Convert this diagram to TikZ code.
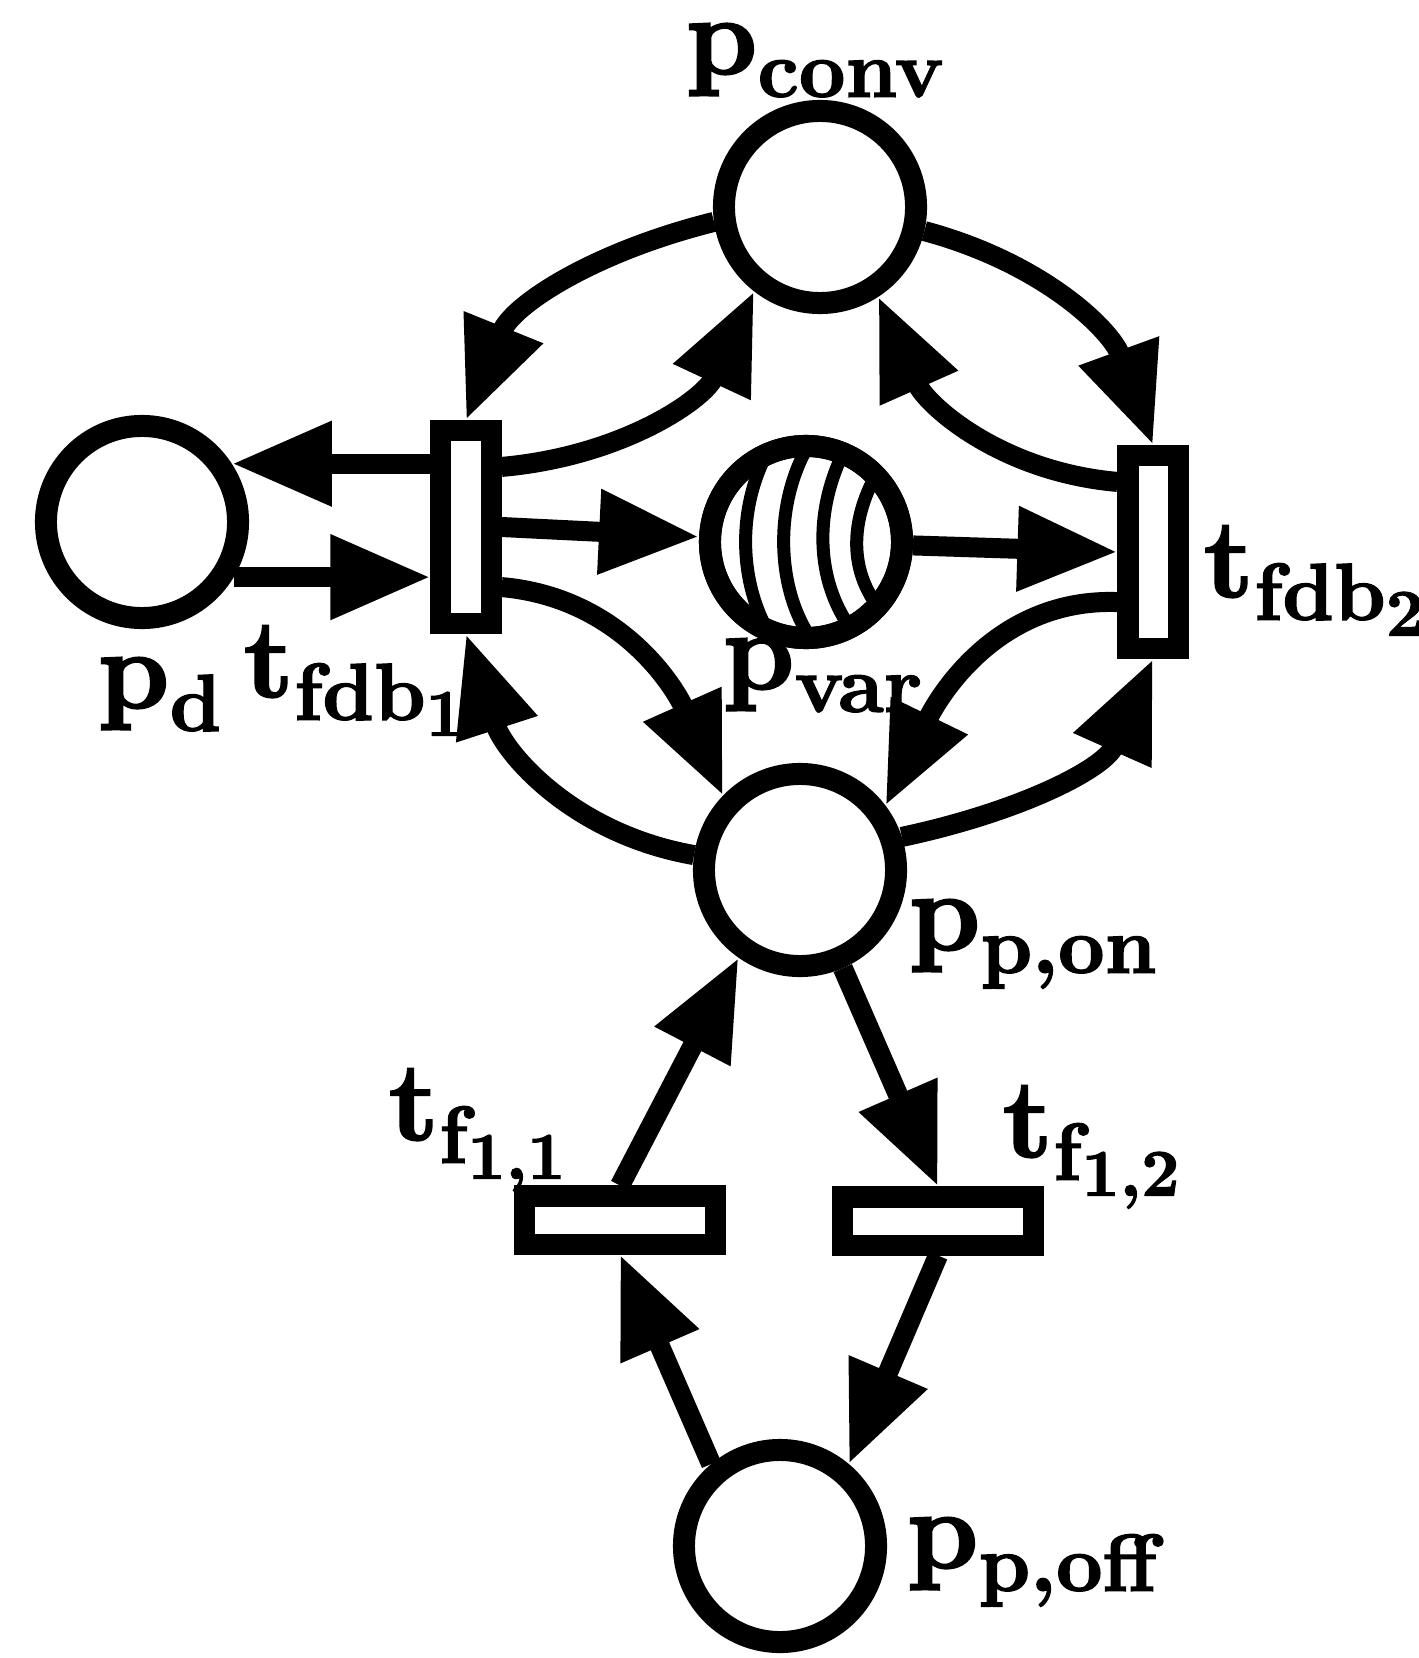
\documentclass[tikz,border=0pt]{standalone}
\usepackage{fontspec}
\newfontfamily\labfont{lmroman10-bold.otf}[FakeBold=1.6]
\newcommand\Lsub[2]{#1\raisebox{-6.5pt}{\fontsize{23}{26}\selectfont #2}}
\newcommand\Lssub[1]{\raisebox{-4.5pt}{\fontsize{19}{22}\selectfont #1}}
\usetikzlibrary{arrows.meta,calc}
\begin{document}
\begin{tikzpicture}[x=0.01cm,y=0.01cm,
  place/.style={circle,draw,line width=0.22cm,minimum size=1.92cm,inner sep=0pt,fill=white},
  vtrans/.style={rectangle,draw,line width=0.21cm,minimum width=0.50cm,minimum height=1.93cm,inner sep=0pt,fill=white},
  htrans/.style={rectangle,draw,line width=0.21cm,minimum width=1.90cm,minimum height=0.48cm,inner sep=0pt,fill=white},
  arc/.style={line width=0.2cm,-{Triangle[length=1cm,width=0.8cm]}},
  hatch/.style={line width=0.13cm},
  lab/.style={anchor=base west,inner sep=0pt,font=\labfont\fontsize{32}{38}\selectfont}
]
\useasboundingbox (0,0) rectangle (1419,-1658);

% places and transitions
\node[place] (pconv) at (820,-207) {};
\node[place] (pvar) at (806,-542) {};
\node[place] (pd) at (142,-522) {};
\node[vtrans] (t1) at (466,-527) {};
\node[vtrans] (t2) at (1153,-552) {};
\node[place] (pon) at (800,-870) {};
\node[htrans] (tf11) at (620,-1220) {};
\node[htrans] (tf12) at (938,-1221) {};
\node[place] (poff) at (780,-1546) {};

% hatching of p_var
\begin{scope}
  \clip (pvar) circle (0.96cm);
  \draw[hatch] (775,-440) .. controls (735,-500) and (735,-590) .. (780,-650);
  \draw[hatch] (815,-435) .. controls (770,-500) and (775,-600) .. (820,-650);
  \draw[hatch] (850,-440) .. controls (810,-510) and (815,-590) .. (860,-640);
  \draw[hatch] (885,-460) .. controls (845,-520) and (848,-580) .. (890,-620);
\end{scope}
\draw[line width=0.22cm] (pvar) circle (0.96cm);

% labels
\node[lab] (lpconv) at (685,-74) {\Lsub{p}{conv}};
\node[lab] (lpd) at (97,-708) {\Lsub{p}{d}};
\node[lab] (lt1) at (243,-697) {\Lsub{t}{fdb\Lssub{1}}};
\node[lab] (lt2) at (1203,-597) {\Lsub{t}{fdb\Lssub{2}}};
\node[lab] (lpvar) at (722,-689) {\Lsub{p}{var}};
\node[lab] (lpon) at (908,-950) {\Lsub{p}{p,on}};
\node[lab] (lpoff) at (906,-1568) {\Lsub{p}{p,off}};
\node[lab] (ltf11) at (388,-1140) {\Lsub{t}{f\Lssub{1,1}}};
\node[lab] (ltf12) at (1002,-1157) {\Lsub{t}{f\Lssub{1,2}}};

% arcs
\draw[arc] (pconv.188) to[out=194,in=68] (t1.north);
\draw[arc] ($(t1.north east)+(0,-47)$) to[out=5,in=245] (pconv.232);
\draw[arc] (pconv.347) to[out=-15,in=110] (t2.north);
\draw[arc] ($(t2.north west)+(0,-37)$) to[out=175,in=-66] (pconv.303);
\draw[arc] (t1.east) -- (pvar);
\draw[arc] (pvar) -- (t2.west);
\draw[arc] (pd.329) -- (pd.329 -| t1.west);
\draw[arc] (pd.33 -| t1.west) -- (pd.33);
\draw[arc] ($(t1.south east)+(0,47)$) to[out=-5,in=114] (pon.136);
\draw[arc] (pon.172) to[out=170,in=-72] (t1.south);
\draw[arc] ($(t2.south west)+(0,57)$) to[out=178,in=64] (pon.37);
\draw[arc] (pon.18) to[out=12,in=-114] (t2.south);
\draw[arc] (pon) -- (tf12.north);
\draw[arc] (tf11.north) -- (pon.235);
\draw[arc] (poff.130) -- (tf11.south);
\draw[arc] (tf12.south) -- (poff.50);
\end{tikzpicture}
\end{document}
